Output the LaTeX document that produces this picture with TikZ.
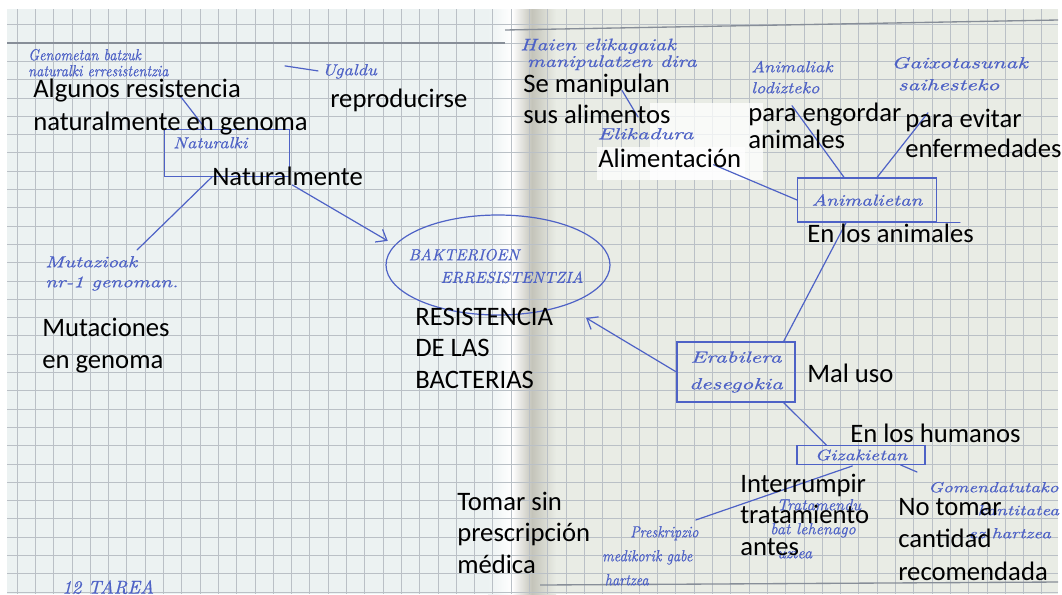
\documentclass[tikz,border=0pt]{standalone}
\usepackage{fontspec}
\newfontfamily\typed{Carlito}
\newfontfamily\hA{lmroman10-italic.otf}[FakeBold=0.6]
\newfontfamily\hE{lmroman10-italic.otf}[FakeStretch=0.88,FakeBold=0.6]
\newfontfamily\hB{lmroman10-italic.otf}[FakeStretch=1.15,FakeBold=0.6]
\newfontfamily\hC{lmroman10-italic.otf}[FakeStretch=1.3,FakeBold=0.6]
\newfontfamily\hD{lmroman10-italic.otf}[FakeStretch=1.45,FakeBold=0.6]
\usetikzlibrary{arrows.meta,shapes.geometric}
\definecolor{ink}{RGB}{78,98,198}
\definecolor{paperL}{RGB}{236,242,242}
\definecolor{paperR}{RGB}{233,236,229}
\definecolor{gridc}{RGB}{186,192,198}
\definecolor{spinec}{RGB}{196,196,186}
\definecolor{edgec}{RGB}{135,142,152}
\newcommand{\tstr}{\rule{0pt}{16pt}}
\newcommand{\hstr}{\rule{0pt}{9pt}}
% handwriting font: family, size, baselineskip
\newcommand{\hf}[3]{#1\fontsize{#2}{#3}\selectfont}
\newcommand{\tf}[1]{\typed\fontsize{20}{#1}\selectfont}
\begin{document}
\begin{tikzpicture}[x=0.75pt,y=-0.75pt,
  typed/.style={font=\tf{24pt}, text=black, inner sep=0pt, align=left, anchor=north west, yshift=16pt},
  hand/.style={font=\hf{\hA}{10.5}{12pt}, text=ink, inner sep=0pt, align=left, anchor=north west, yshift=9pt},
  handc/.style={font=\hf{\hA}{12}{17pt}, text=ink, inner sep=0pt, align=left},
  hbox/.style={draw=ink, line width=0.9pt, inner sep=0pt, text=ink, align=center},
  hline/.style={draw=ink, line width=0.9pt, line cap=round},
  harrow/.style={hline, -{Straight Barb[length=7pt,width=11pt,line width=0.9pt]}},
  gridline/.style={draw=gridc, line width=0.6pt},
  patch/.style={fill=white, opacity=0.75, draw=none}
]
\useasboundingbox (0,0) rectangle (1062,594);
\fill[white] (0,0) rectangle (1062,594);
% paper
\fill[paperL] (7,9) rectangle (505,594);
\fill[paperR] (505,9) rectangle (1058,594);
\shade[left color=paperL, right color=white] (488,9) rectangle (512,594);
\shade[left color=white, right color=spinec] (512,9) rectangle (532,594);
\shade[left color=spinec, right color=paperR] (532,9) rectangle (556,594);
% grid
\begin{scope}
  \clip (7,9) rectangle (1058,594);
  \foreach \i in {0,...,57} {\draw[gridline] ({17+18.3*\i},9) -- ({17+18.3*\i},594);}
  \foreach \j in {0,...,32} {\draw[gridline] (7,{6.4+18.3*\j}) -- (1058,{6.4+18.3*\j});}
\end{scope}
\draw[edgec, line width=1pt] (7,43) -- (505,43);
\draw[edgec, line width=1pt] (505,30) -- (1058,20);
\draw[edgec, line width=1pt] (540,585) -- (1058,582);
% white patches behind typed text
\fill[patch] (650,103) rectangle (763,180);
\fill[patch] (597,147) rectangle (745,180);

% hand-drawn shapes
\node[draw=ink, line width=0.9pt, inner sep=0pt, minimum width=94pt, minimum height=35pt] (natbox) at (227,153) {};
\node[draw=ink, line width=0.9pt, ellipse, inner sep=0pt, minimum width=168pt, minimum height=75pt] (ell) at (498,265) {};
\node[hbox, font=\hf{\hC}{12}{15pt}, minimum width=104pt, minimum height=33pt] (anim) at (867,200) {Animalietan};
\node[hbox, font=\hf{\hD}{12}{20pt}, minimum width=88.5pt, minimum height=45pt] (erab) at (736,372) {Erabilera\\desegokia};
\node[hbox, font=\hf{\hC}{11.5}{14pt}, minimum width=96pt, minimum height=14pt] (giza) at (861,455) {Gizakietan};

% handwritten texts
\node[hand, font=\hf{\hE}{12}{12pt}] (genom) at (28,60) {\hstr Genometan batzuk\\naturalki erresistentzia};
\node[hand, font=\hf{\hB}{12}{14pt}] (ugaldu) at (322,75) {\hstr Ugaldu};
\node[hand, font=\hf{\hB}{12}{14pt}] (natki) at (173,148) {\hstr Naturalki};
\node[hand, font=\hf{\hC}{12}{15pt}] (mutaz) at (45,267) {\hstr Mutazioak\\nr-1 genoman.};
\node[handc] (bakt) at (496,266) {BAKTERIOEN\\\hspace*{24pt}ERRESISTENTZIA};
\node[hand, font=\hf{\hC}{12.5}{12.5pt}] (haien) at (520,50) {\hstr Haien elikagaiak\\\hspace*{5pt}manipulatzen dira};
\node[hand, font=\hf{\hD}{12}{14pt}] (elik) at (597,139) {\hstr Elikadura};
\node[hand, font=\hf{\hB}{12}{15.75pt}] (lodiz) at (751,72) {\hstr Animaliak\\lodizteko};
\node[hand, font=\hf{\hD}{12}{16.5pt}] (gaixo) at (891,68) {\hstr Gaixotasunak\\\hspace*{5pt}saihesteko};
\node[hand, font=\hf{\hE}{12}{18pt}] (preskr) at (602,537) {\hstr\hspace*{21pt}Preskripzio\\medikorik gabe\\\hspace*{2pt}hartzea};
\node[hand, font=\hf{\hA}{12}{18pt}] (trat) at (770,510) {\hstr\hspace*{5pt}Tratamendu\\bat lehenago\\\hspace*{5pt}uztea};
\node[hand, font=\hf{\hC}{11}{17.25pt}] (gomen) at (928,492) {\hstr Gomendatutako\\\hspace*{37pt}kantitatea\\\hspace*{30pt}ez hartzea};
\node[hand, font=\hf{\hA}{14}{16pt}] (tarea) at (62,592) {\hstr 12 TAREA};

% connectors
\draw[hline] ([shift={(152,19)}]genom.south west) -- ([shift={(42,0)}]natbox.north west);
\draw[hline] ([shift={(-37,-5)}]ugaldu.west) -- ([shift={(-4,0)}]ugaldu.west);
\draw[hline] ([shift={(-15,0)}]natbox.south) -- ([shift={(92,-5)}]mutaz.north west);
\draw[harrow, shorten >=6pt] ([shift={(2,8)}]natbox.south east) -- (ell.169);
\draw[hline] ([shift={(102,20)}]haien.south west) -- ([shift={(41,-10)}]elik.north west);
\draw[hline] ([shift={(20,25)}]elik.south east) -- (anim.west);
\draw[hline] ([shift={(41,12)}]lodiz.south west) -- ([shift={(47,0)}]anim.north west);
\draw[hline] ([shift={(37,22)}]gaixo.south west) -- ([shift={(80,0)}]anim.north west);
\draw[hline] (anim.south east) -- ++(23,0);
\draw[hline] ([shift={(49,0)}]anim.south west) -- ([shift={(-12,0)}]erab.north east);
\draw[hline] ([shift={(-12,0)}]erab.south east) -- ([shift={(30,0)}]giza.north west);
\draw[hline] ([shift={(56,1)}]giza.south west) -- ([shift={(-3,-5)}]preskr.north east);
\draw[hline] ([shift={(-25,0)}]giza.south east) -- ([shift={(-11,-8)}]gomen.north west);
\draw[harrow, shorten >=18pt] (erab.west) -- (ell.-31);

% typed Spanish labels
\node[typed, font=\tf{24.75pt}] (t1) at (33,97) {\tstr Algunos resistencia\\naturalmente en genoma};
\node[typed] (t2) at (330,107) {\tstr reproducirse};
\node[typed] (t3) at (212,185) {\tstr Naturalmente};
\node[typed] (t4) at (42,336) {\tstr Mutaciones\\en genoma};
\node[typed, font=\tf{23.25pt}] (t5) at (523,92) {\tstr Se manipulan\\sus alimentos};
\node[typed] (t6) at (598,167) {\tstr Alimentación};
\node[typed, font=\tf{20.5pt}] (t7) at (748,121) {\tstr para engordar\\animales};
\node[typed, font=\tf{22.5pt}] (t8) at (905,127) {\tstr para evitar\\enfermedades};
\node[typed] (t9) at (807,242) {\tstr En los animales};
\node[typed] (t10) at (807,382) {\tstr Mal uso};
\node[typed] (t11) at (850,442) {\tstr En los humanos};
\node[typed, font=\tf{23.6pt}] (t12) at (740,492) {\tstr Interrumpir\\tratamiento\\antes};
\node[typed, font=\tf{24.4pt}] (t13) at (898,515) {\tstr No tomar\\cantidad\\recomendada};
\node[typed, font=\tf{23.6pt}] (t14) at (457,510) {\tstr Tomar sin\\prescripción\\médica};
\node[typed, font=\tf{23.6pt}] (t15) at (415,325) {\tstr RESISTENCIA\\DE LAS\\BACTERIAS};
\end{tikzpicture}
\end{document}
